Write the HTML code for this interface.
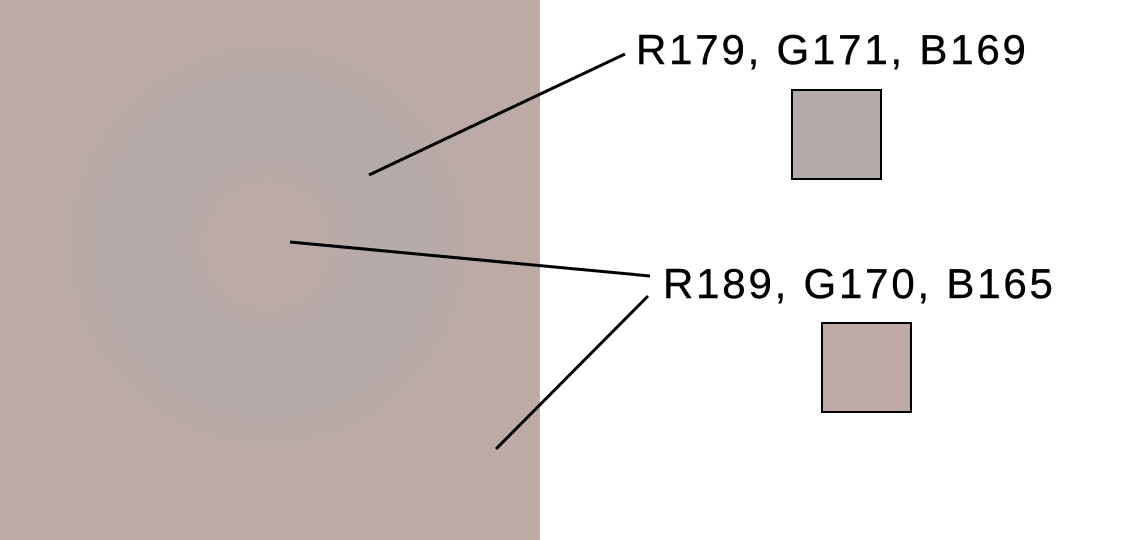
<!DOCTYPE html>
<html><head><meta charset="utf-8"><style>
body{margin:0;width:1125px;height:540px;background:#fff;position:relative;overflow:hidden;font-family:"Liberation Sans",sans-serif}
#p{position:absolute;left:0;top:0;width:540px;height:540px;background:radial-gradient(circle at 268px 245px,rgb(189,170,165) 0px,rgb(188,170,166) 55px,rgb(179,171,169) 105px,rgb(179,171,169) 150px,rgb(186,170,166) 195px,rgb(189,170,165) 215px)}
.t{position:absolute;font-size:42px;letter-spacing:2.8px;color:#000;line-height:42px;white-space:nowrap;-webkit-text-stroke:0.4px #000}
.s{position:absolute;width:87px;height:87px;border:2.5px solid #000}
</style></head><body>
<div id="p"></div>
<div class="t" style="left:636px;top:29px">R179, G171, B169</div>
<div class="t" style="left:663px;top:263px">R189, G170, B165</div>
<div class="s" style="left:791px;top:89px;background:rgb(179,171,169)"></div>
<div class="s" style="left:821px;top:322px;background:rgb(189,170,165)"></div>
<svg width="1125" height="540" style="position:absolute;left:0;top:0">
<g stroke="#000" stroke-width="3">
<line x1="369" y1="175" x2="625" y2="54"/>
<line x1="290" y1="242" x2="650" y2="276"/>
<line x1="496" y1="449" x2="648" y2="296"/>
</g></svg>
</body></html>
